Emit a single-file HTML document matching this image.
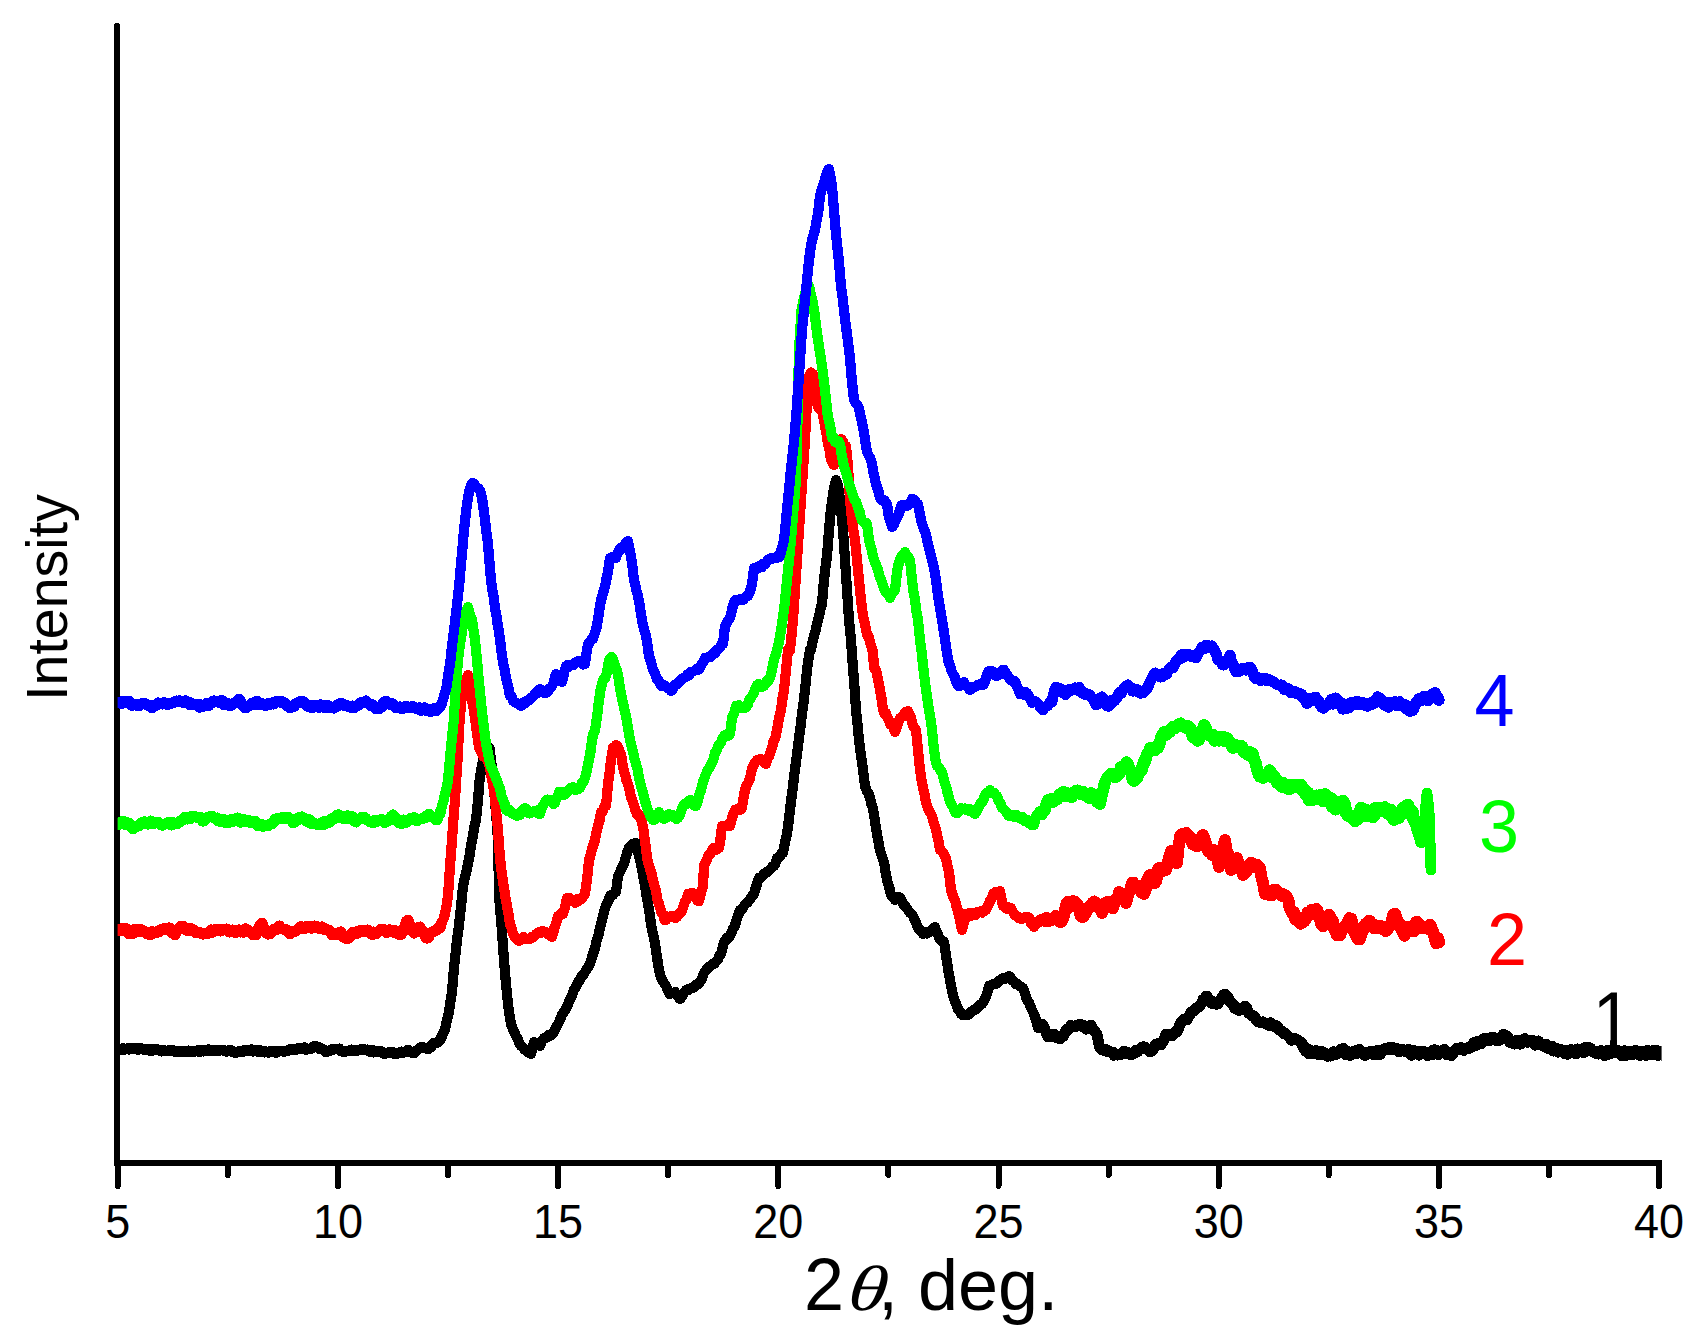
<!DOCTYPE html>
<html><head><meta charset="utf-8"><title>XRD</title>
<style>
html,body{margin:0;padding:0;background:#fff;}
body{width:1703px;height:1342px;overflow:hidden;}
svg{display:block;}
text{font-family:"Liberation Sans",Arial,sans-serif;}
.c{fill:none;stroke-linejoin:round;stroke-linecap:round;}
.ax{stroke:#000;stroke-width:6;stroke-linecap:round;fill:none;}
.tl{font-size:45px;text-anchor:middle;fill:#000;}
.lb{font-size:72px;}
</style></head><body>
<svg width="1703" height="1342" viewBox="0 0 1703 1342" shape-rendering="crispEdges">
<rect width="1703" height="1342" fill="#fff"/>
<defs><clipPath id="cp"><rect x="117.6" y="0" width="1544" height="1160"/></clipPath></defs>
<path class="ax" stroke-linecap="butt" d="M117,26 L117,1163"/>
<path class="ax" d="M117,26 L117,30"/>
<path class="ax" style="stroke-linecap:butt" d="M114,1163 L1662,1163"/>
<path class="ax" d="M117.7,1163 L117.7,1186"/>
<path class="ax" d="M227.8,1163 L227.8,1175"/>
<text class="tl" transform="translate(117.7,1238) scale(1,1.065)">5</text>
<path class="ax" d="M337.9,1163 L337.9,1186"/>
<path class="ax" d="M448.0,1163 L448.0,1175"/>
<text class="tl" transform="translate(337.9,1238) scale(1,1.065)">10</text>
<path class="ax" d="M558.1,1163 L558.1,1186"/>
<path class="ax" d="M668.2,1163 L668.2,1175"/>
<text class="tl" transform="translate(558.1,1238) scale(1,1.065)">15</text>
<path class="ax" d="M778.3,1163 L778.3,1186"/>
<path class="ax" d="M888.4,1163 L888.4,1175"/>
<text class="tl" transform="translate(778.3,1238) scale(1,1.065)">20</text>
<path class="ax" d="M998.5,1163 L998.5,1186"/>
<path class="ax" d="M1108.6,1163 L1108.6,1175"/>
<text class="tl" transform="translate(998.5,1238) scale(1,1.065)">25</text>
<path class="ax" d="M1218.7,1163 L1218.7,1186"/>
<path class="ax" d="M1328.8,1163 L1328.8,1175"/>
<text class="tl" transform="translate(1218.7,1238) scale(1,1.065)">30</text>
<path class="ax" d="M1438.9,1163 L1438.9,1186"/>
<path class="ax" d="M1549.0,1163 L1549.0,1175"/>
<text class="tl" transform="translate(1438.9,1238) scale(1,1.065)">35</text>
<path class="ax" d="M1659.1,1163 L1659.1,1186"/>
<text class="tl" transform="translate(1659.1,1238) scale(1,1.065)">40</text>
<g clip-path="url(#cp)">
<path class="c" stroke="#000" stroke-width="10.6" d="M117.0,1049.6 L118.5,1049.2 L120.0,1048.8 L121.5,1049.8 L123.0,1048.6 L124.5,1049.5 L126.0,1049.1 L127.5,1048.5 L129.0,1049.3 L130.5,1048.4 L132.0,1049.1 L133.5,1048.4 L135.0,1048.4 L136.5,1049.0 L138.0,1049.8 L139.5,1048.3 L141.0,1048.5 L142.5,1049.3 L144.0,1049.0 L145.5,1050.0 L146.9,1049.4 L148.4,1049.2 L149.8,1050.5 L151.3,1048.8 L152.7,1050.5 L154.2,1049.5 L155.6,1049.4 L157.1,1049.5 L158.5,1050.0 L160.0,1050.5 L161.5,1051.2 L163.1,1050.0 L164.6,1050.9 L166.2,1051.1 L167.7,1050.7 L169.2,1051.1 L170.8,1050.2 L172.3,1050.3 L173.8,1050.7 L175.4,1051.7 L176.9,1051.3 L178.5,1051.1 L180.0,1051.6 L181.5,1051.7 L182.9,1051.4 L184.4,1051.0 L185.8,1052.0 L187.3,1051.7 L188.7,1050.8 L190.2,1051.4 L191.6,1051.2 L193.1,1051.9 L194.5,1051.5 L196.0,1051.0 L197.5,1050.5 L199.1,1051.8 L200.6,1050.1 L202.1,1050.6 L203.6,1051.2 L205.2,1050.0 L206.7,1050.6 L208.2,1049.6 L209.8,1050.8 L211.3,1050.9 L212.8,1050.5 L214.4,1051.0 L215.9,1049.9 L217.4,1050.6 L218.9,1050.3 L220.5,1050.2 L222.0,1050.0 L223.5,1050.1 L224.9,1051.0 L226.4,1051.4 L227.8,1050.7 L229.3,1051.2 L230.7,1050.2 L232.2,1051.7 L233.6,1051.7 L235.1,1052.6 L236.5,1052.5 L238.0,1052.0 L239.5,1051.4 L241.0,1051.4 L242.5,1051.8 L244.0,1050.3 L245.5,1051.0 L247.0,1050.2 L248.5,1049.9 L250.0,1050.5 L251.5,1049.7 L252.9,1051.2 L254.4,1050.1 L255.8,1050.4 L257.3,1050.8 L258.7,1051.8 L260.2,1050.4 L261.6,1051.2 L263.1,1051.5 L264.5,1052.3 L266.0,1051.6 L267.5,1052.2 L269.0,1052.3 L270.5,1051.2 L272.0,1051.4 L273.5,1051.3 L275.0,1052.4 L276.5,1052.5 L278.0,1050.9 L279.5,1051.0 L281.0,1051.1 L282.5,1051.1 L284.0,1051.6 L285.5,1051.2 L286.9,1051.1 L288.4,1050.1 L289.8,1049.3 L291.3,1049.8 L292.7,1049.4 L294.2,1049.4 L295.6,1049.9 L297.1,1049.0 L298.5,1048.4 L300.0,1048.0 L301.6,1048.4 L303.2,1048.8 L304.8,1047.7 L306.4,1049.6 L308.0,1049.0 L309.4,1049.0 L310.8,1048.5 L312.2,1047.8 L313.6,1046.4 L315.0,1046.0 L316.6,1046.7 L318.1,1046.9 L319.7,1048.8 L321.3,1048.6 L322.9,1049.4 L324.4,1050.6 L326.0,1052.0 L327.5,1050.9 L329.0,1050.9 L330.5,1050.0 L332.0,1049.5 L333.5,1049.4 L335.0,1049.0 L336.5,1049.1 L338.0,1049.0 L339.5,1048.8 L341.0,1051.2 L342.5,1051.5 L344.0,1052.0 L345.6,1051.0 L347.1,1050.9 L348.7,1050.8 L350.3,1050.6 L351.9,1049.8 L353.4,1051.0 L355.0,1050.0 L356.6,1051.0 L358.1,1049.9 L359.7,1050.0 L361.3,1049.2 L362.9,1049.2 L364.4,1049.7 L366.0,1050.0 L367.5,1049.8 L369.0,1051.2 L370.5,1050.1 L372.0,1050.0 L373.5,1052.2 L375.0,1051.6 L376.5,1051.0 L378.0,1052.0 L379.5,1052.2 L381.0,1051.3 L382.5,1052.4 L384.0,1053.5 L385.5,1053.4 L387.0,1053.1 L388.5,1052.4 L390.0,1053.0 L391.4,1052.7 L392.9,1052.3 L394.3,1053.5 L395.7,1053.1 L397.1,1053.6 L398.6,1052.7 L400.0,1053.0 L401.6,1051.8 L403.2,1052.4 L404.8,1052.2 L406.4,1051.3 L408.0,1050.0 L409.5,1051.4 L411.0,1052.1 L412.5,1052.7 L414.0,1053.0 L415.5,1051.2 L417.0,1050.5 L418.5,1049.0 L420.0,1048.0 L421.6,1047.3 L423.2,1047.5 L424.8,1048.2 L426.4,1048.3 L428.0,1049.0 L429.5,1047.9 L431.0,1046.9 L432.5,1044.4 L434.0,1043.0 L435.5,1043.1 L437.0,1042.5 L438.5,1041.7 L440.0,1040.0 L441.7,1036.3"/>
<path class="c" stroke="#000" stroke-width="10.2" d="M440.0,1040.0 L441.7,1036.3 L443.3,1032.7 L445.0,1030.0 L446.3,1023.3 L447.7,1017.3 L449.0,1012.0 L450.5,1001.3 L452.0,992.0 L454.0,968.0 L455.5,954.3 L457.0,940.0 L458.5,929.0 L460.0,916.0 L461.5,901.8 L463.0,886.0 L464.7,878.6 L466.3,871.7 L468.0,864.0 L469.5,855.7 L471.0,846.0 L473.0,835.0 L474.5,826.5 L476.0,820.0 L478.0,800.0 L479.6,780.0 L481.6,767.0 L484.5,754.0 L486.0,750.6 L487.5,746.5 L489.5,748.0 L490.5,756.0 L492.0,768.0 L494.5,795.0 L496.0,813.5 L497.5,830.0 L499.4,900.0 L502.0,932.0 L504.0,960.0 L506.0,984.0 L508.0,1004.0 L509.5,1014.7 L511.0,1024.0 L512.7,1028.6 L514.3,1031.9 L516.0,1036.0 L517.7,1038.6 L519.3,1043.4 L521.0,1046.0 L522.7,1046.9 L524.3,1049.4 L526.0,1050.0 L527.7,1052.5 L529.3,1052.4 L531.0,1054.0 L532.5,1047.8 L534.0,1042.0 L535.5,1044.1 L537.0,1044.5 L538.5,1044.2 L540.0,1046.0 L541.3,1042.4 L542.7,1039.8 L544.0,1038.0 L545.6,1038.2 L547.2,1037.1 L548.8,1034.8 L550.4,1035.6 L552.0,1034.0 L553.5,1032.7 L555.0,1029.4 L556.5,1026.1 L558.0,1024.0 L559.5,1021.1 L561.0,1017.1 L562.5,1013.8 L564.0,1012.0 L565.7,1009.8 L567.3,1005.7 L569.0,1002.0 L570.3,998.7 L571.7,996.4 L573.0,992.0 L574.7,988.5 L576.3,986.2 L578.0,982.0 L579.5,980.8 L581.0,977.3 L582.5,975.4 L584.0,974.0 L585.5,971.0 L587.0,968.4 L588.5,966.7 L590.0,964.0 L591.7,958.1 L593.3,953.1 L595.0,948.0 L596.7,940.4 L598.3,935.7 L600.0,928.0 L601.7,921.0 L603.3,914.6 L605.0,908.0 L606.7,904.2 L608.3,901.0 L610.0,896.0 L611.5,894.8 L613.0,895.0 L614.5,893.0 L616.0,892.0 L618.0,876.0 L619.5,873.1 L621.0,870.1 L622.5,865.8 L624.0,864.0 L625.3,859.2 L626.7,853.9 L628.0,850.0 L629.3,847.1 L630.7,847.4 L632.0,845.0 L633.3,843.5 L634.7,843.6 L636.0,843.0 L637.3,849.2 L638.7,854.5 L640.0,860.0 L641.3,866.2 L642.7,873.4 L644.0,880.0 L645.3,888.1 L646.7,896.7 L648.0,904.0 L649.5,913.1 L651.0,924.0 L652.3,930.8 L653.7,936.7 L655.0,944.0 L656.5,953.5 L658.0,964.0 L659.5,971.7 L661.0,978.0 L662.7,980.7 L664.3,983.5 L666.0,986.0 L667.3,989.3 L668.7,992.3 L670.0,994.0 L671.7,993.2 L673.3,992.9 L675.0,992.0 L676.7,994.3 L678.3,996.7 L680.0,999.0 L681.5,997.2 L683.0,994.4 L684.5,992.3 L686.0,990.0 L687.4,989.3 L688.8,989.9 L690.2,988.7 L691.6,988.5 L693.0,987.0 L694.4,987.1 L695.8,984.4 L697.2,984.1 L698.6,984.1 L700.0,982.0 L701.5,979.8 L703.0,975.1 L704.5,972.1 L706.0,970.0 L707.6,968.7 L709.2,966.6 L710.8,965.8 L712.4,964.2 L714.0,964.0 L715.4,962.4 L716.8,960.7 L718.2,959.0 L719.6,955.2 L721.0,954.0 L722.5,948.5 L724.0,942.0 L725.4,940.8 L726.8,937.9 L728.2,938.1 L729.6,936.7 L731.0,934.0 L732.7,929.3 L734.3,927.1 L736.0,922.0 L737.3,917.8 L738.7,914.0 L740.0,910.0 L741.6,909.6 L743.2,907.6 L744.8,904.4 L746.4,903.4 L748.0,902.0 L749.5,900.0 L751.0,897.6 L752.5,895.3 L754.0,894.0 L755.3,888.9 L756.7,885.2 L758.0,880.0 L759.6,877.4 L761.2,877.3 L762.8,875.7 L764.4,873.2 L766.0,873.0 L767.6,871.2 L769.2,870.5 L770.8,868.8 L772.4,866.4 L774.0,866.0 L775.5,863.2 L777.0,858.0 L778.5,857.4 L780.0,856.6 L781.5,853.3 L783.0,853.0 L784.3,846.1 L785.7,839.2 L787.0,834.0 L788.5,822.7 L790.0,810.0 L791.5,797.4 L793.0,786.0 L794.5,773.1 L796.0,762.0 L797.5,749.8 L799.0,738.0 L800.5,727.0 L802.0,714.0 L803.5,702.8 L805.0,690.0 L807.0,670.0 L808.5,659.4 L810.0,650.0 L811.0,650.0 L812.5,642.2 L814.0,636.0 L815.3,631.7 L816.7,625.5 L818.0,620.0 L819.3,615.1 L820.7,608.3 L822.0,604.0 L824.0,580.0 L825.5,566.9 L827.0,556.0 L829.0,530.0 L831.0,508.0 L832.5,498.5 L834.0,488.0 L836.0,480.0 L838.0,485.0 L840.0,500.0 L841.5,514.8 L843.0,530.0 L845.0,560.0 L847.0,590.0 L849.0,620.0 L851.0,640.0 L853.0,668.0 L854.0,680.0 L856.0,710.0 L857.5,724.0 L859.0,740.0 L860.5,752.1 L862.0,762.0 L863.5,774.3 L865.0,786.0 L866.7,790.7 L868.3,793.0 L870.0,798.0 L871.3,804.2 L872.7,807.6 L874.0,814.0 L875.5,824.9 L877.0,834.0 L878.5,842.4 L880.0,851.0 L881.3,854.3 L882.7,858.5 L884.0,862.0 L885.5,872.0 L887.0,880.0 L888.3,884.4 L889.7,889.1 L891.0,895.0 L892.3,896.7 L893.7,897.7 L895.0,900.0 L896.3,898.1 L897.7,897.2 L899.0,897.0 L900.3,898.3 L901.7,901.0 L903.0,904.0 L904.7,905.5 L906.3,907.5 L908.0,910.0 L909.7,912.6 L911.3,913.5 L913.0,916.0 L914.7,920.0 L916.3,923.2 L918.0,928.0 L919.7,929.6 L921.3,930.8 L923.0,934.0 L924.4,933.0 L925.8,932.0 L927.2,933.4 L928.6,932.5 L930.0,932.0 L931.7,929.6 L933.3,928.6 L935.0,927.0 L936.3,931.7 L937.7,933.4 L939.0,938.0 L940.7,940.1 L942.3,940.5 L944.0,942.0 L945.5,952.0 L947.0,962.0 L948.5,971.8 L950.0,980.0 L951.5,987.7 L953.0,996.0 L954.3,999.3 L955.7,1003.1 L957.0,1006.0 L958.3,1009.8 L959.7,1011.0 L961.0,1014.0 L962.4,1015.0 L963.8,1014.9 L965.2,1014.9 L966.6,1014.6 L968.0,1015.0 L969.4,1013.6 L970.8,1011.9 L972.2,1011.1 L973.6,1010.0 L975.0,1010.0 L976.4,1009.4 L977.8,1007.0 L979.2,1005.6 L980.6,1004.2 L982.0,1004.0 L983.7,1001.5 L985.3,998.2 L987.0,994.0 L989.0,986.0 L990.4,986.0 L991.8,984.7 L993.2,984.2 L994.6,983.9 L996.0,984.0 L997.5,982.7 L999.0,980.7 L1000.5,980.1 L1002.0,979.0 L1003.4,977.8 L1004.8,978.9 L1006.2,978.3 L1007.6,976.7 L1009.0,976.0 L1010.4,977.0 L1011.8,980.3 L1013.2,980.3 L1014.6,982.1 L1016.0,984.0 L1017.4,983.6 L1018.8,985.3 L1020.2,986.3 L1021.6,987.2 L1023.0,988.0 L1024.3,991.3 L1025.7,996.0 L1027.0,1000.0 L1028.7,1002.1 L1030.3,1006.1 L1032.0,1010.0 L1034.0,1014.0 L1035.3,1017.7 L1036.7,1023.1 L1038.0,1028.0 L1039.3,1025.6 L1040.7,1024.2"/>
<path class="c" stroke="#000" stroke-width="11" d="M1040.7,1024.2 L1042.0,1024.0 L1043.5,1026.5 L1045.0,1029.5 L1046.5,1034.1 L1048.0,1037.0 L1049.5,1036.4 L1051.0,1036.4 L1052.5,1035.3 L1054.0,1034.0 L1055.5,1036.0 L1057.0,1037.9 L1058.5,1037.4 L1060.0,1039.0 L1061.7,1036.0 L1063.3,1036.1 L1065.0,1032.0 L1066.4,1029.5 L1067.8,1030.4 L1069.2,1028.9 L1070.6,1025.6 L1072.0,1026.0 L1073.6,1026.8 L1075.2,1026.6 L1076.8,1025.3 L1078.4,1025.2 L1080.0,1024.0 L1081.5,1026.4 L1083.0,1025.2 L1084.5,1027.8 L1086.0,1029.0 L1087.7,1027.7 L1089.3,1027.5 L1091.0,1025.0 L1092.5,1028.3 L1094.0,1030.7 L1095.5,1032.1 L1097.0,1034.0 L1098.5,1042.4 L1100.0,1048.0 L1101.6,1049.5 L1103.2,1050.3 L1104.8,1049.4 L1106.4,1049.5 L1108.0,1052.0 L1109.5,1051.2 L1111.0,1052.5 L1112.5,1052.1 L1114.0,1055.2 L1115.5,1054.7 L1117.0,1055.0 L1118.4,1055.0 L1119.9,1054.6 L1121.3,1054.4 L1122.7,1053.2 L1124.1,1051.1 L1125.6,1053.5 L1127.0,1052.0 L1128.3,1053.9 L1129.7,1054.0 L1131.0,1055.0 L1132.6,1054.1 L1134.2,1053.6 L1135.8,1050.4 L1137.4,1051.9 L1139.0,1050.0 L1140.5,1048.4 L1142.0,1047.0 L1143.5,1046.9 L1145.0,1047.0 L1146.7,1049.5 L1148.3,1049.3 L1150.0,1052.0 L1151.5,1050.9 L1153.0,1049.7 L1154.5,1046.0 L1156.0,1044.0 L1157.7,1043.9 L1159.3,1044.6 L1161.0,1045.0 L1162.7,1042.0 L1164.3,1038.6 L1166.0,1034.0 L1167.5,1034.9 L1169.0,1035.5 L1170.5,1034.0 L1172.0,1036.0 L1173.5,1033.2 L1175.0,1032.1 L1176.5,1032.4 L1178.0,1030.0 L1179.5,1025.3 L1181.0,1022.0 L1182.5,1021.7 L1184.0,1019.2 L1185.5,1018.9 L1187.0,1020.0 L1188.3,1016.5 L1189.7,1015.3 L1191.0,1012.0 L1192.5,1011.7 L1194.0,1010.6 L1195.5,1008.2 L1197.0,1008.1 L1198.5,1006.9 L1200.0,1006.0 L1201.5,1003.4 L1203.0,999.6 L1204.5,999.9 L1206.0,996.0 L1207.4,996.5 L1208.8,1000.9 L1210.2,1002.4 L1211.6,1000.7 L1213.0,1004.0 L1214.5,1003.4 L1216.0,1004.2 L1217.5,1004.2 L1219.0,1002.0 L1220.5,999.8 L1222.0,997.2 L1223.5,995.0 L1225.0,994.0 L1226.5,997.9 L1228.0,997.5 L1229.5,1001.0 L1231.0,1003.0 L1232.4,1003.1 L1233.8,1005.9 L1235.2,1008.8 L1236.6,1007.3 L1238.0,1010.0 L1239.4,1010.4 L1240.8,1008.4 L1242.2,1009.0 L1243.6,1007.5 L1245.0,1006.0 L1246.7,1007.7 L1248.3,1012.8 L1250.0,1014.0 L1251.6,1015.6 L1253.2,1015.5 L1254.8,1017.0 L1256.4,1020.4 L1258.0,1022.0 L1259.6,1022.2 L1261.2,1022.1 L1262.8,1021.9 L1264.4,1023.0 L1266.0,1024.0 L1267.6,1023.5 L1269.2,1025.6 L1270.8,1022.8 L1272.4,1025.7 L1274.0,1025.0 L1275.6,1027.4 L1277.2,1026.0 L1278.8,1030.1 L1280.4,1030.6 L1282.0,1031.0 L1283.6,1033.8 L1285.2,1033.0 L1286.8,1034.7 L1288.4,1036.2 L1290.0,1038.0 L1291.6,1040.2 L1293.2,1039.1 L1294.8,1038.7 L1296.4,1039.3 L1298.0,1040.0 L1299.5,1041.2 L1301.0,1042.4"/>
<path class="c" stroke="#000" stroke-width="11.6" d="M1301.0,1042.4 L1302.5,1044.6 L1304.0,1048.0 L1305.6,1050.7 L1307.2,1048.9 L1308.8,1053.2 L1310.4,1050.7 L1312.0,1053.0 L1313.4,1051.7 L1314.9,1052.8 L1316.3,1051.0 L1317.7,1051.8 L1319.1,1054.6 L1320.6,1054.1 L1322.0,1052.0 L1323.4,1054.0 L1324.9,1053.5 L1326.3,1055.4 L1327.7,1055.9 L1329.1,1054.4 L1330.6,1055.7 L1332.0,1055.0 L1333.4,1052.0 L1334.9,1054.7 L1336.3,1052.6 L1337.7,1053.4 L1339.1,1052.2 L1340.6,1049.6 L1342.0,1050.0 L1343.6,1048.7 L1345.2,1054.1 L1346.8,1051.1 L1348.4,1053.9 L1350.0,1055.0 L1351.6,1053.2 L1353.2,1052.0 L1354.8,1053.2 L1356.4,1053.4 L1358.0,1050.0 L1359.4,1049.8 L1360.8,1052.8 L1362.2,1052.0 L1363.6,1054.3 L1365.0,1055.0 L1366.6,1054.1 L1368.2,1052.5 L1369.8,1052.1 L1371.4,1051.9 L1373.0,1053.0 L1374.4,1054.7 L1375.9,1052.4 L1377.3,1050.7 L1378.7,1053.9 L1380.1,1054.1 L1381.6,1051.0 L1383.0,1051.0 L1384.6,1049.0 L1386.1,1049.0 L1387.7,1048.3 L1389.2,1049.3 L1390.8,1047.8 L1392.3,1048.4 L1393.9,1048.2 L1395.4,1049.6 L1397.0,1049.0 L1398.5,1051.3 L1399.9,1051.0 L1401.4,1049.7 L1402.8,1050.0 L1404.3,1050.9 L1405.7,1050.6 L1407.2,1050.7 L1408.6,1049.7 L1410.1,1051.2 L1411.5,1055.0 L1413.0,1053.0 L1414.5,1051.1 L1415.9,1053.0 L1417.4,1053.6 L1418.8,1054.8 L1420.3,1051.6 L1421.7,1051.9 L1423.2,1051.7"/>
<path class="c" stroke="#000" stroke-width="11.6" d="M1423.2,1051.7 L1424.6,1052.5 L1426.1,1052.7 L1427.5,1055.3 L1429.0,1053.0 L1430.6,1054.6 L1432.1,1054.6 L1433.7,1050.3 L1435.2,1050.2 L1436.8,1053.5 L1438.3,1054.3 L1439.9,1052.1 L1441.4,1052.5 L1443.0,1052.0 L1444.4,1049.6 L1445.9,1051.7 L1447.3,1054.6 L1448.7,1054.2 L1450.1,1054.5 L1451.6,1055.2 L1453.0,1053.0 L1454.6,1050.7 L1456.2,1049.0 L1457.8,1048.3 L1459.4,1049.1 L1461.0,1048.0 L1462.4,1048.8 L1463.9,1049.9 L1465.3,1048.7 L1466.7,1048.2 L1468.1,1048.6 L1469.6,1046.9 L1471.0,1047.0 L1472.6,1046.3 L1474.2,1042.7 L1475.8,1045.4 L1477.4,1041.7 L1479.0,1042.0 L1480.4,1043.7 L1481.9,1041.9 L1483.3,1039.7 L1484.7,1038.4 L1486.1,1038.6 L1487.6,1040.1 L1489.0,1039.0 L1490.4,1040.1 L1491.9,1037.3 L1493.3,1037.3 L1494.7,1039.7 L1496.1,1040.1 L1497.6,1039.3 L1499.0,1040.0 L1500.5,1037.6 L1502.0,1038.5 L1503.5,1034.6 L1505.0,1036.0 L1506.6,1036.2 L1508.2,1038.2 L1509.8,1041.9 L1511.4,1041.5 L1513.0,1042.0 L1514.5,1043.8 L1515.9,1041.7 L1517.4,1040.4 L1518.8,1040.4 L1520.3,1043.8 L1521.7,1042.5 L1523.2,1040.4 L1524.6,1038.9 L1526.1,1041.2 L1527.5,1042.0 L1529.0,1041.0 L1530.6,1041.0 L1532.1,1040.7 L1533.7,1043.2 L1535.2,1044.9 L1536.8,1041.9 L1538.3,1041.3 L1539.9,1043.3 L1541.4,1044.2 L1543.0,1045.0 L1544.5,1046.4 L1546.0,1044.5 L1547.5,1048.0 L1549.0,1048.2 L1550.5,1047.5 L1552.0,1046.5 L1553.5,1050.8 L1555.0,1049.0 L1556.6,1048.7 L1558.2,1051.8 L1559.8,1049.5 L1561.4,1050.0 L1563.0,1052.0 L1564.5,1053.2 L1565.9,1050.8 L1567.4,1054.0 L1568.8,1051.6 L1570.3,1050.0 L1571.7,1050.1 L1573.2,1050.9 L1574.6,1052.1 L1576.1,1053.4 L1577.5,1049.3 L1579.0,1051.0 L1580.5,1050.2 L1582.0,1049.1 L1583.5,1052.6 L1585.0,1048.2 L1586.5,1047.5 L1588.0,1047.3 L1589.5,1048.7 L1591.0,1049.0 L1592.5,1051.5 L1594.0,1051.9 L1595.5,1051.7 L1597.0,1053.5 L1598.5,1053.7 L1600.0,1051.1 L1601.5,1050.9 L1603.0,1053.0 L1604.5,1055.2 L1606.1,1054.2 L1607.6,1050.7 L1609.2,1053.8 L1610.7,1052.4 L1612.2,1052.4 L1613.8,1052.2 L1615.3,1051.3 L1616.8,1050.5 L1618.4,1051.9 L1619.9,1052.3 L1621.5,1055.3 L1623.0,1053.0 L1624.5,1051.1 L1626.1,1055.3 L1627.6,1051.5 L1629.2,1052.3 L1630.7,1054.6 L1632.2,1054.6 L1633.8,1052.7 L1635.3,1050.7 L1636.8,1052.9 L1638.4,1052.4 L1639.9,1055.1 L1641.5,1051.5 L1643.0,1053.0 L1644.5,1052.3 L1646.0,1055.0 L1647.5,1050.7 L1649.0,1052.6 L1650.5,1054.6 L1652.0,1054.3 L1653.5,1050.7 L1655.0,1050.7 L1656.5,1050.8 L1658.0,1055.1 L1659.5,1051.8 L1661.0,1054.2 L1662.5,1055.0 L1664.0,1052.2 L1665.5,1051.9 L1667.0,1055.3 L1668.5,1053.6 L1670.0,1053.0"/>
<path class="c" stroke="#f00" stroke-width="11" d="M117.0,931.0 L118.4,929.7 L119.8,931.0 L121.2,929.1 L122.6,928.5 L124.0,929.0 L125.5,928.1 L127.0,932.0 L128.5,933.6 L130.0,933.0 L131.4,932.9 L132.9,933.5 L134.3,929.5 L135.7,929.7 L137.1,930.0 L138.6,931.3 L140.0,929.0 L141.4,931.7 L142.8,930.6 L144.2,931.1 L145.6,932.7 L147.0,934.0 L148.6,933.5 L150.1,934.8 L151.7,931.5 L153.3,933.4 L154.9,932.8 L156.4,932.7 L158.0,931.0 L159.4,931.6 L160.9,930.6 L162.3,929.1 L163.7,928.6 L165.1,928.3 L166.6,929.5 L168.0,928.0 L169.4,927.8 L170.8,929.6 L172.2,933.2 L173.6,932.6 L175.0,935.0 L176.5,931.1 L178.0,928.7 L179.5,928.4 L181.0,926.0 L182.5,926.0 L184.0,929.2 L185.5,929.5 L187.0,930.5 L188.5,928.4 L190.0,930.0 L191.5,928.9 L193.0,929.5 L194.5,931.5 L196.0,932.8 L197.5,932.3 L199.0,932.0 L200.5,933.2 L202.0,934.0 L203.6,934.0 L205.1,933.8 L206.7,933.6 L208.2,933.5 L209.8,932.4 L211.3,929.9 L212.9,932.2 L214.4,929.7 L216.0,930.0 L217.5,930.3 L219.0,929.6 L220.5,931.1 L222.0,929.1 L223.5,929.3 L225.0,929.3 L226.5,929.0 L228.0,930.4 L229.4,931.9 L230.9,930.9 L232.3,930.0 L233.7,930.3 L235.1,932.7 L236.6,930.9 L238.0,931.0 L239.4,929.8 L240.9,931.9 L242.3,931.2 L243.7,932.3 L245.1,928.8 L246.6,930.0 L248.0,930.0 L249.6,932.2 L251.2,933.3 L252.8,934.6 L254.4,932.3 L256.0,935.0 L257.5,931.2 L259.0,927.6 L260.5,924.8 L262.0,923.0 L263.5,927.5 L265.0,928.8 L266.5,932.9 L268.0,934.0 L269.4,932.5 L270.9,933.4 L272.3,930.8 L273.7,929.1 L275.1,930.1 L276.6,929.7 L278.0,927.0 L279.5,926.0 L281.0,928.4 L282.5,929.0 L284.0,929.0 L285.5,929.2 L287.0,931.0 L288.5,931.4 L290.0,934.0 L291.6,931.9 L293.2,931.1 L294.8,931.4 L296.4,930.6 L298.0,929.0 L299.5,927.6 L301.0,926.6 L302.5,927.6 L304.0,928.7 L305.5,926.6 L307.0,926.8 L308.5,926.1 L310.0,927.0 L311.5,928.3 L312.9,927.5 L314.4,925.9 L315.8,926.2 L317.3,927.5 L318.7,928.3 L320.2,928.8 L321.6,926.9 L323.1,927.4 L324.5,929.6 L326.0,929.0 L327.5,929.7 L329.0,930.2 L330.5,931.3 L332.0,934.7 L333.5,933.3 L335.0,935.0 L336.5,934.5 L338.0,933.0 L339.5,932.4 L341.0,932.0 L342.5,935.1 L344.0,937.4 L345.5,936.7 L347.0,939.0 L348.4,936.6 L349.8,937.5 L351.2,934.3 L352.6,932.3 L354.0,933.0 L355.6,933.9 L357.2,931.5 L358.8,932.4 L360.4,930.2 L362.0,930.0 L363.4,931.9 L364.9,930.7 L366.3,930.1 L367.8,929.9 L369.2,932.4 L370.7,933.2 L372.1,934.7 L373.6,932.0 L375.0,934.0 L376.4,933.7 L377.8,931.9 L379.2,931.6 L380.6,929.5 L382.0,930.0 L383.5,929.6 L385.0,930.9 L386.5,932.8 L388.0,931.6 L389.5,929.7 L391.0,930.8 L392.5,931.6 L394.0,930.0 L395.5,933.0 L397.0,931.3 L398.5,932.3 L400.0,935.0 L401.3,934.4 L402.7,932.1 L404.0,928.0 L405.3,925.3 L406.7,921.0 L408.0,920.0 L409.5,924.9 L411.0,926.1 L412.5,931.3 L414.0,933.0 L415.5,932.0 L417.0,931.2 L418.5,927.2 L420.0,927.0 L421.5,930.8 L423.0,931.4 L424.5,934.9 L426.0,938.0 L427.4,938.1 L428.8,936.9 L430.2,933.2 L431.6,932.1 L433.0,932.0 L434.4,930.8 L435.8,930.5 L437.2,929.2 L438.6,927.4 L440.0,928.0 L441.7,922.4"/>
<path class="c" stroke="#f00" stroke-width="10.2" d="M440.0,928.0 L441.7,922.4 L443.3,919.5 L445.0,914.0 L446.5,906.4 L448.0,896.0 L450.0,866.0 L452.0,840.0 L453.5,818.3 L455.0,800.0 L457.5,760.0 L459.5,722.0 L461.5,700.0 L463.0,692.2 L464.5,684.0 L466.2,680.4 L468.0,675.0 L470.5,688.0 L472.0,700.0 L473.8,709.3 L475.5,722.0 L478.0,741.0 L479.5,749.0 L482.0,754.0 L483.3,756.6 L484.7,755.3 L486.0,758.0 L487.5,760.9 L489.0,763.0 L491.0,774.0 L493.0,785.0 L494.5,795.0 L496.0,810.0 L498.0,830.0 L499.0,846.0 L501.0,868.0 L502.5,878.2 L504.0,888.0 L505.5,897.5 L507.0,906.0 L508.5,914.3 L510.0,924.0 L511.3,927.7 L512.7,932.3 L514.0,936.0 L515.7,937.4 L517.3,939.9 L519.0,941.0 L520.5,940.1 L522.0,939.3 L523.5,937.0 L525.0,938.0 L526.7,938.8 L528.3,938.6 L530.0,939.0 L531.5,936.8 L533.0,937.4 L534.5,936.3 L536.0,934.0 L537.6,933.4 L539.2,932.0 L540.8,932.7 L542.4,931.0 L544.0,932.0 L545.6,931.7 L547.2,933.8 L548.8,933.5 L550.4,935.8 L552.0,937.0 L553.3,932.7 L554.7,926.7 L556.0,924.0 L558.0,916.0 L559.7,915.8 L561.3,913.2 L563.0,914.0 L564.3,909.5 L565.7,904.3 L567.0,898.0 L568.4,898.8 L569.8,898.0 L571.2,900.4 L572.6,900.8 L574.0,902.0 L575.5,902.9 L577.0,899.2 L578.5,901.0 L580.0,899.0 L581.7,899.1 L583.3,896.5 L585.0,894.0 L587.0,880.0 L589.0,860.0 L590.3,856.5 L591.7,849.6 L593.0,846.0 L594.7,841.1 L596.3,832.6 L598.0,826.0 L599.5,820.6 L601.0,812.0 L602.7,811.5 L604.3,806.8 L606.0,806.0 L608.0,784.0 L609.5,773.0 L611.0,760.0 L613.0,748.0 L614.5,748.1 L616.0,745.0 L617.7,746.4 L619.3,750.5 L621.0,754.0 L622.5,763.9 L624.0,772.0 L625.3,774.8 L626.7,781.4 L628.0,784.0 L629.3,788.5 L630.7,795.8 L632.0,800.0 L633.3,802.7 L634.7,808.0 L636.0,812.0 L637.5,815.2 L639.0,814.3 L640.5,817.0 L642.0,822.6 L643.5,830.0 L645.5,845.0 L647.5,860.0 L648.8,865.0 L650.1,869.3 L651.5,873.3 L652.8,880.0 L654.3,884.9 L655.9,890.8 L657.5,899.6 L659.0,904.0 L660.4,908.6 L661.8,913.4 L663.1,914.8 L664.5,920.0 L666.1,920.0 L667.8,916.6 L669.4,917.1 L671.0,916.0 L672.5,916.7 L674.0,916.0 L675.5,918.1 L677.0,917.0 L678.5,914.9 L680.0,912.8 L681.5,911.6 L683.0,908.0 L684.7,901.9 L686.3,900.4 L688.0,894.0 L689.7,894.1 L691.3,893.0 L693.0,893.0 L694.5,896.1 L696.0,896.2 L697.5,900.8 L699.0,901.0 L700.3,896.3 L701.7,890.5 L703.0,886.0 L704.0,865.0 L705.6,863.0 L707.2,858.8 L708.8,854.8 L710.4,853.9 L712.0,850.0 L713.4,848.0 L714.8,850.4 L716.2,847.9 L717.6,848.9 L719.0,848.0 L720.5,838.7 L722.0,826.0 L723.6,826.3 L725.2,826.6 L726.8,825.3 L728.4,824.2 L730.0,826.0 L731.7,819.0 L733.3,814.1 L735.0,810.0 L736.4,810.0 L737.8,809.0 L739.2,808.8 L740.6,809.8 L742.0,808.0 L743.5,797.7 L745.0,790.0 L746.7,785.0 L748.3,782.6 L750.0,778.0 L751.3,771.6 L752.7,766.9 L754.0,764.0 L755.5,762.2 L757.0,760.1 L758.5,759.7 L760.0,759.0 L761.5,759.3 L763.0,761.8 L764.5,763.1 L766.0,764.0 L767.5,758.9 L769.0,756.4 L770.5,751.9 L772.0,748.0 L773.7,740.7 L775.3,737.6 L777.0,730.0 L778.3,722.4 L779.7,715.4 L781.0,710.0 L782.5,698.5 L784.0,690.0 L786.0,670.0 L788.0,650.0 L790.0,650.0 L791.5,635.5 L793.0,620.0 L795.0,590.0 L797.0,560.0 L799.0,530.0 L801.0,500.0 L803.0,470.0 L805.0,440.0 L806.0,420.0 L807.5,395.0 L809.0,376.0 L811.0,372.5 L813.0,374.0 L815.0,388.0 L817.0,404.0 L818.7,407.7 L820.3,409.7 L822.0,411.0 L823.5,418.1 L825.0,426.0 L826.5,434.2 L828.0,444.0 L829.5,450.2 L831.0,460.0 L832.5,463.0 L834.0,465.0 L835.3,459.6 L836.7,453.1 L838.0,448.0 L839.5,444.0 L841.0,439.0 L842.7,441.1 L844.3,445.2 L846.0,446.0 L848.0,466.0 L850.0,500.0 L852.0,520.0 L853.5,530.8 L855.0,540.0 L857.0,560.0 L859.0,580.0 L861.0,600.0 L863.0,616.0 L864.5,622.1 L866.0,630.0 L867.3,635.5 L868.7,636.4 L870.0,642.0 L871.5,647.1 L873.0,652.0 L874.0,668.0 L876.0,670.0 L877.3,676.3 L878.7,682.4 L880.0,690.0 L881.5,698.4 L883.0,710.0 L884.5,713.5 L886.0,713.2 L887.5,717.7 L889.0,720.0 L890.5,724.6 L892.0,724.7 L893.5,727.9 L895.0,732.0 L896.7,727.7 L898.3,722.7 L900.0,718.0 L901.6,717.1 L903.2,716.3 L904.8,712.6 L906.4,711.7 L908.0,711.0 L909.3,713.9 L910.7,716.7 L912.0,722.0 L913.3,726.1 L914.7,728.4 L916.0,730.0 L918.0,750.0 L920.0,770.0 L921.5,779.8 L923.0,788.0 L924.3,792.2 L925.7,801.2 L927.0,806.0 L928.7,810.2 L930.3,812.5 L932.0,816.0 L933.3,821.5 L934.7,825.2 L936.0,830.0 L937.3,835.7 L938.7,841.9 L940.0,850.0 L941.5,851.0 L943.0,852.3 L944.5,855.4 L946.0,858.0 L947.5,865.9 L949.0,872.0 L951.0,890.0 L952.3,894.0 L953.7,897.9 L955.0,900.0 L956.3,906.1 L957.7,909.8 L959.0,916.0 L960.5,923.2 L962.0,930.0 L963.3,924.4 L964.7,920.4 L966.0,914.0 L967.4,914.1 L968.9,913.2 L970.3,914.5 L971.7,915.7 L973.1,913.0 L974.6,915.4 L976.0,914.0 L977.6,911.7 L979.2,911.9 L980.8,911.2 L982.4,912.5 L984.0,911.0 L985.7,910.3 L987.3,907.2 L989.0,904.0 L990.3,900.0 L991.7,898.7 L993.0,894.0 L994.4,892.8 L995.8,891.9 L997.2,893.7 L998.6,892.1 L1000.0,891.0 L1001.5,899.2 L1003.0,906.0 L1004.6,907.0 L1006.2,908.5 L1007.8,907.1 L1009.4,908.8 L1011.0,908.0 L1012.7,911.4 L1014.3,914.6 L1016.0,916.0 L1017.5,916.5 L1019.0,918.3 L1020.5,918.5 L1022.0,919.0 L1023.5,917.8 L1025.0,917.0 L1026.5,917.9 L1028.0,917.0 L1029.5,918.0 L1031.0,923.5 L1032.5,923.2 L1034.0,927.0 L1035.3,923.3 L1036.7,921.6 L1038.0,921.0 L1039.4,922.5 L1040.8,920.4"/>
<path class="c" stroke="#f00" stroke-width="12" d="M1040.8,920.4 L1042.2,919.7 L1043.6,919.3 L1045.0,921.0 L1046.5,917.7 L1048.0,921.2 L1049.5,920.3 L1051.0,920.2 L1052.5,919.9 L1054.0,918.0 L1055.6,916.0 L1057.2,919.7 L1058.8,919.0 L1060.4,922.3 L1062.0,921.0 L1063.3,917.6 L1064.7,912.7 L1066.0,905.0 L1067.4,902.1 L1068.9,906.6 L1070.3,906.6 L1071.7,906.5 L1073.1,901.2 L1074.6,901.5 L1076.0,903.0 L1077.5,904.2 L1079.0,907.2 L1080.5,915.6 L1082.0,917.0 L1083.5,916.6 L1085.0,913.3 L1086.5,912.2 L1088.0,908.0 L1089.6,907.8 L1091.2,904.7 L1092.8,902.6 L1094.4,901.6 L1096.0,903.0 L1097.5,907.0 L1099.0,906.2 L1100.5,909.4 L1102.0,913.0 L1103.7,908.9 L1105.3,902.8 L1107.0,902.0 L1108.5,902.0 L1110.0,903.7 L1111.5,907.8 L1113.0,908.0 L1114.5,903.2 L1116.0,898.9 L1117.5,898.8 L1119.0,892.0 L1120.4,894.2 L1121.8,898.5 L1123.2,899.3 L1124.6,898.0 L1126.0,903.0 L1127.5,897.5 L1129.0,892.6 L1130.5,889.6 L1132.0,883.0 L1133.5,882.8 L1135.0,885.7 L1136.5,885.5 L1138.0,886.0 L1139.5,886.3 L1141.0,892.2 L1142.5,889.5 L1144.0,894.0 L1145.7,889.9 L1147.3,880.0 L1149.0,876.0 L1150.5,874.8 L1152.0,877.7 L1153.5,882.8 L1155.0,883.0 L1156.3,880.9 L1157.7,870.0 L1159.0,868.0 L1160.4,868.3 L1161.8,868.7 L1163.2,871.0 L1164.6,867.7 L1166.0,870.0 L1167.7,863.6 L1169.3,856.4 L1171.0,851.0 L1172.5,856.0 L1174.0,855.6 L1175.5,862.7 L1177.0,863.0 L1178.5,848.2 L1180.0,836.0 L1181.6,834.1 L1183.2,836.8 L1184.8,835.4 L1186.4,832.9 L1188.0,835.0 L1189.5,838.3 L1191.0,837.5 L1192.5,844.2 L1194.0,845.0 L1195.7,845.8 L1197.3,846.1 L1199.0,844.0 L1200.3,841.8 L1201.7,837.1 L1203.0,835.0 L1204.5,838.7 L1206.0,842.9 L1207.5,850.1 L1209.0,852.0 L1210.5,849.8 L1212.0,854.8 L1213.5,849.9 L1215.0,853.0 L1216.3,855.9 L1217.7,860.9 L1219.0,867.0 L1220.5,862.7 L1222.0,853.5 L1223.5,846.0 L1225.0,840.0 L1226.5,849.8 L1228.0,853.4 L1229.5,862.3 L1231.0,870.0 L1232.5,867.2 L1234.0,865.5 L1235.5,862.5 L1237.0,858.0 L1238.5,863.1 L1240.0,865.6 L1241.5,869.7 L1243.0,875.0 L1244.4,870.7 L1245.8,872.7 L1247.2,869.4 L1248.6,867.7 L1250.0,864.0 L1251.4,862.6 L1252.9,864.8 L1254.3,867.4 L1255.7,866.8 L1257.1,864.6 L1258.6,867.2 L1260.0,868.0 L1261.7,879.0 L1263.3,883.8 L1265.0,894.0 L1266.3,892.5 L1267.7,893.5 L1269.0,895.0 L1270.5,895.2 L1272.0,895.1 L1273.5,889.9 L1275.0,891.0 L1276.4,889.9 L1277.8,891.5 L1279.2,893.0 L1280.6,895.1 L1282.0,896.0 L1283.7,894.3 L1285.3,895.6 L1287.0,897.0 L1288.3,899.5 L1289.7,908.5 L1291.0,910.0 L1292.4,913.6 L1293.8,912.0 L1295.2,919.4 L1296.6,916.4 L1298.0,921.0 L1299.4,920.1 L1300.8,923.5"/>
<path class="c" stroke="#f00" stroke-width="12.6" d="M1300.8,923.5 L1302.2,922.2 L1303.6,921.6 L1305.0,920.0 L1306.3,917.1 L1307.7,912.9 L1309.0,913.0 L1310.5,914.1 L1312.0,909.9 L1313.5,910.7 L1315.0,912.1 L1316.5,909.3 L1318.0,913.0 L1319.7,916.5 L1321.3,924.0 L1323.0,926.0 L1324.5,924.8 L1326.0,920.5 L1327.5,918.8 L1329.0,915.0 L1330.6,918.7 L1332.2,920.1 L1333.8,927.8 L1335.4,930.2 L1337.0,935.0 L1338.6,935.1 L1340.2,934.7 L1341.8,929.0 L1343.4,928.4 L1345.0,926.0 L1346.5,926.2 L1348.0,921.9 L1349.5,918.6 L1351.0,919.0 L1352.4,924.8 L1353.8,930.0 L1355.2,933.2 L1356.6,936.6 L1358.0,939.0 L1359.4,939.0 L1360.8,934.8 L1362.2,931.7 L1363.6,927.4 L1365.0,925.0 L1366.5,923.3 L1368.0,925.5 L1369.5,921.0 L1371.0,924.0 L1372.6,924.2 L1374.2,927.9 L1375.8,928.1 L1377.4,928.2 L1379.0,928.0 L1380.6,926.4 L1382.2,928.2 L1383.8,928.8 L1385.4,930.6 L1387.0,930.0 L1388.6,926.1 L1390.2,925.0 L1391.8,923.8 L1393.4,914.7 L1395.0,914.0 L1396.6,918.8 L1398.2,923.4 L1399.8,923.9 L1401.4,928.3 L1403.0,932.0 L1404.6,935.4 L1406.2,927.5 L1407.8,931.1 L1409.4,927.7 L1411.0,930.0 L1412.4,931.1 L1413.8,931.1 L1415.2,926.6 L1416.6,922.0 L1418.0,924.0 L1419.4,925.4 L1420.8,925.9 L1422.2,928.1 L1423.6,927.3"/>
<path class="c" stroke="#f00" stroke-width="12.6" d="M1423.6,927.3 L1425.0,928.0 L1426.7,928.1 L1428.3,928.6 L1430.0,925.0 L1431.7,929.5 L1433.3,932.9 L1435.0,938.0 L1436.3,942.9 L1437.7,938.3 L1439.0,942.0"/>
<path class="c" stroke="#0f0" stroke-width="11" d="M117.0,824.0 L118.5,824.4 L120.0,822.9 L121.5,824.0 L123.0,821.2 L124.5,824.2 L126.0,822.0 L127.4,822.9 L128.8,823.1 L130.2,825.3 L131.6,827.2 L133.0,829.0 L134.5,826.2 L136.0,826.7 L137.5,825.7 L139.0,825.8 L140.5,823.4 L142.0,823.0 L143.4,822.0 L144.9,821.7 L146.3,823.5 L147.7,824.1 L149.1,822.4 L150.6,821.1 L152.0,822.0 L153.6,823.5 L155.2,822.4 L156.8,822.1 L158.4,822.2 L160.0,824.0 L161.4,825.0 L162.9,825.1 L164.3,824.3 L165.7,823.7 L167.1,824.0 L168.6,822.6 L170.0,823.6 L171.4,825.1 L172.9,822.6 L174.3,823.4 L175.7,823.9 L177.1,823.7 L178.6,822.1 L180.0,822.0 L181.5,820.2 L183.0,820.2 L184.5,817.6 L186.0,818.0 L187.4,819.1 L188.9,817.2 L190.3,818.9 L191.7,816.5 L193.1,816.8 L194.6,816.2 L196.0,817.0 L197.6,817.5 L199.2,817.4 L200.8,817.5 L202.4,821.0 L204.0,821.0 L205.4,819.2 L206.8,818.0 L208.2,817.2 L209.6,816.9 L211.0,816.0 L212.5,816.4 L214.0,817.9 L215.5,818.6 L217.0,818.1 L218.5,821.0 L220.0,820.0 L221.6,821.7 L223.2,819.0 L224.8,822.2 L226.4,822.8 L228.0,821.6 L229.6,822.3 L231.2,819.4 L232.8,821.7 L234.4,820.5 L236.0,819.6 L237.4,818.0 L238.9,818.3 L240.3,822.2 L241.7,821.3 L243.1,820.1 L244.6,819.8 L246.0,821.6 L247.6,820.3 L249.2,820.7 L250.8,822.9 L252.4,821.3 L254.0,822.0 L255.5,821.6 L257.0,825.3 L258.5,825.8 L260.0,825.6 L261.4,824.1 L262.9,826.6 L264.3,825.3 L265.7,825.8 L267.1,825.1 L268.6,825.7 L270.0,824.0 L271.6,823.9 L273.2,822.9 L274.8,819.3 L276.4,819.9 L278.0,818.0 L279.5,818.0 L281.0,818.6 L282.5,817.3 L284.0,818.8 L285.5,817.4 L287.0,817.0 L288.5,817.6 L290.0,819.0 L291.5,820.1 L293.0,823.0 L294.5,822.0 L296.0,819.3 L297.5,819.9 L299.0,817.6 L300.5,818.0 L302.0,817.0 L303.5,818.0 L305.0,819.2 L306.5,821.4 L308.0,821.0 L309.6,819.7 L311.2,823.5 L312.8,822.7 L314.4,823.6 L316.0,824.0 L317.6,824.4 L319.1,824.8 L320.7,822.9 L322.2,822.8 L323.8,824.6 L325.3,821.1 L326.9,823.0 L328.4,822.7 L330.0,822.0 L331.4,818.8 L332.8,819.6 L334.2,818.5 L335.6,818.0 L337.0,815.0 L338.5,814.9 L340.0,817.8 L341.5,816.5 L343.0,816.9 L344.5,819.0 L346.0,818.0 L347.5,815.8 L349.0,818.0 L350.5,817.3 L352.0,816.4 L353.3,817.7 L354.7,821.5 L356.0,822.0 L357.5,820.2 L359.0,819.4 L360.5,818.3 L362.0,817.0 L363.6,819.0 L365.2,817.9 L366.8,819.8 L368.4,820.7 L370.0,822.0 L371.4,821.9 L372.9,822.7 L374.3,820.4 L375.7,822.1 L377.1,820.2 L378.6,820.3 L380.0,820.0 L381.6,819.3 L383.2,820.4 L384.8,822.4 L386.4,821.4 L388.0,821.0 L389.7,820.1 L391.3,816.4 L393.0,815.0 L394.5,816.3 L396.0,818.2 L397.5,821.3 L399.0,823.0 L400.6,823.1 L402.1,823.2 L403.7,820.0 L405.3,822.1 L406.9,822.3 L408.4,820.6 L410.0,820.0 L411.4,818.1 L412.9,819.0 L414.3,817.7 L415.7,818.3 L417.1,820.9 L418.6,819.6 L420.0,819.0 L421.5,818.8 L423.0,818.4 L424.5,818.1 L426.0,816.1 L427.5,815.3 L429.0,814.0 L430.6,815.7 L432.2,817.1 L433.8,818.0 L435.4,819.5 L437.0,820.0 L438.3,815.6 L439.7,814.0 L441.0,810.0"/>
<path class="c" stroke="#0f0" stroke-width="10.2" d="M441.0,810.0 L443.7,800.0 L445.1,793.2 L446.6,787.6 L448.0,780.0 L450.7,750.0 L453.6,722.0 L455.5,692.0 L458.0,660.0 L459.3,649.2 L460.7,640.2 L462.0,632.0 L463.5,621.3 L465.0,614.0 L466.5,611.5 L468.0,607.0 L469.3,612.8 L470.7,616.2 L472.0,620.0 L473.5,629.5 L475.0,640.0 L477.0,660.0 L478.5,677.2 L480.0,692.0 L481.5,707.0 L483.0,720.0 L484.5,732.2 L486.0,744.0 L487.3,749.8 L488.7,756.6 L490.0,764.0 L491.7,767.7 L493.3,771.3 L495.0,776.0 L496.7,779.8 L498.3,784.5 L500.0,788.0 L501.5,795.6 L503.0,800.0 L504.5,803.4 L506.0,810.0 L507.5,811.0 L509.0,809.8 L510.5,810.9 L512.0,813.0 L513.6,814.5 L515.2,814.1 L516.8,815.7 L518.4,814.4 L520.0,815.0 L521.7,810.9 L523.3,809.9 L525.0,808.0 L526.5,809.6 L528.0,812.1 L529.5,813.5 L531.0,813.0 L532.3,812.2 L533.7,811.4 L535.0,811.0 L536.7,810.6 L538.3,813.5 L540.0,814.0 L541.3,809.6 L542.7,806.1 L544.0,804.0 L545.7,800.9 L547.3,799.6 L549.0,800.0 L550.5,801.4 L552.0,800.1 L553.5,803.9 L555.0,803.0 L556.3,797.9 L557.7,797.0 L559.0,792.0 L560.7,791.7 L562.3,792.3 L564.0,795.0 L565.5,794.3 L567.0,791.1 L568.5,791.3 L570.0,789.0 L571.4,787.7 L572.9,787.1 L574.3,789.6 L575.7,789.2 L577.1,789.6 L578.6,789.0 L580.0,788.0 L581.7,783.2 L583.3,781.8 L585.0,778.0 L586.3,772.8 L587.7,765.9 L589.0,760.0 L590.5,751.6 L592.0,740.0 L593.3,733.8 L594.7,731.0 L596.0,724.0 L597.5,712.8 L599.0,700.0 L600.5,690.2 L602.0,684.0 L603.3,679.6 L604.7,679.2 L606.0,676.0 L607.5,669.1 L609.0,660.0 L611.4,657.0 L612.8,658.7 L614.2,662.8 L615.6,667.6 L617.0,670.0 L618.5,677.8 L620.0,688.0 L621.7,697.3 L623.3,704.0 L625.0,712.0 L626.7,719.7 L628.3,730.2 L630.0,740.0 L631.5,746.3 L633.0,751.8 L634.5,758.6 L636.0,764.0 L637.7,770.1 L639.3,779.7 L641.0,786.0 L642.7,791.5 L644.3,798.5 L646.0,804.0 L647.3,808.5 L648.7,811.7 L650.0,816.0 L651.3,816.9 L652.7,819.7 L654.0,820.0 L655.7,818.9 L657.3,815.7 L659.0,812.0 L660.7,814.6 L662.3,815.9 L664.0,819.0 L665.7,815.8 L667.3,817.4 L669.0,814.0 L670.5,815.4 L672.0,816.5 L673.5,815.4 L675.0,817.0 L676.5,819.1 L678.0,818.0 L679.7,815.2 L681.3,810.4 L683.0,806.0 L684.4,804.1 L685.8,803.3 L687.2,803.8 L688.6,800.8 L690.0,800.0 L691.5,802.2 L693.0,803.4 L694.5,805.9 L696.0,806.0 L697.7,801.8 L699.3,794.6 L701.0,790.0 L702.7,782.9 L704.3,778.5 L706.0,774.0 L707.5,770.7 L709.0,768.3 L710.5,766.1 L712.0,762.0 L713.5,759.4 L715.0,752.4 L716.5,751.2 L718.0,746.0 L719.5,744.6 L721.0,742.3 L722.5,738.8 L724.0,736.0 L725.5,734.7 L727.0,736.3 L728.5,735.6 L730.0,734.0 L732.0,718.0 L733.3,714.7 L734.7,711.5 L736.0,706.0 L737.5,705.8 L739.0,705.2 L740.5,707.2 L742.0,708.4 L743.5,706.6 L745.0,708.0 L746.4,706.5 L747.8,704.8 L749.2,699.8 L750.6,698.8 L752.0,696.0 L753.7,693.0 L755.3,688.5 L757.0,685.0 L758.4,684.1 L759.8,684.5 L761.2,686.5 L762.6,686.8 L764.0,686.0 L765.5,683.9 L767.0,680.5 L768.5,681.1 L770.0,678.0 L771.5,672.0 L773.0,664.0 L774.3,658.4 L775.7,655.0 L777.0,650.0 L778.3,644.8 L779.7,638.1 L781.0,630.0 L782.5,620.1 L784.0,610.0 L786.0,590.0 L788.0,570.0 L790.0,550.0 L792.0,528.0 L794.0,504.0 L796.0,480.0 L797.5,420.0 L799.0,350.0 L801.5,310.0 L803.2,301.9 L805.0,294.0 L806.5,289.3 L808.0,284.0 L809.5,288.4 L811.0,295.0 L812.5,301.4 L814.0,310.0 L815.3,318.9 L816.7,330.7 L818.0,340.0 L819.3,348.2 L820.7,357.6 L822.0,366.0 L823.5,377.6 L825.0,390.0 L826.5,404.1 L828.0,418.0 L829.0,420.0 L830.5,427.7 L832.0,438.0 L833.6,437.6 L835.2,442.2 L836.8,441.1 L838.4,441.4 L840.0,444.0 L841.5,453.5 L843.0,462.0 L844.7,469.0 L846.3,472.8 L848.0,480.0 L849.7,485.7 L851.3,490.1 L853.0,496.0 L854.7,500.1 L856.3,502.3 L858.0,508.0 L859.5,511.3 L861.0,518.0 L862.5,521.3 L864.0,522.3 L865.5,522.5 L867.0,524.0 L869.0,540.0 L870.3,545.6 L871.7,549.8 L873.0,556.0 L874.7,561.7 L876.3,565.1 L878.0,570.0 L879.3,575.6 L880.7,579.0 L882.0,582.0 L883.3,586.5 L884.7,590.3 L886.0,592.0 L887.3,593.1 L888.7,594.3 L890.0,598.0 L891.7,594.3 L893.3,591.5 L895.0,590.0 L897.0,572.0 L898.5,564.5 L900.0,560.0 L901.7,555.7 L903.3,554.9 L905.0,552.0 L906.7,556.0 L908.3,557.2 L910.0,560.0 L912.0,580.0 L913.5,591.6 L915.0,600.0 L916.5,611.5 L918.0,620.0 L920.0,640.0 L921.5,650.9 L923.0,665.0 L924.5,677.9 L926.0,690.0 L927.5,699.6 L929.0,710.0 L930.5,718.6 L932.0,730.0 L934.0,750.0 L935.5,759.7 L937.0,766.0 L938.7,767.1 L940.3,770.2 L942.0,772.0 L943.3,777.2 L944.7,783.0 L946.0,786.0 L947.3,791.9 L948.7,796.3 L950.0,802.0 L951.7,805.1 L953.3,807.4 L955.0,812.0 L956.5,813.2 L958.0,812.8 L959.5,809.5 L961.0,808.3 L962.5,808.6 L964.0,809.0 L965.5,808.5 L967.0,810.4 L968.5,810.5 L970.0,809.0 L971.7,811.9 L973.3,810.7 L975.0,814.0 L976.7,811.7 L978.3,808.1 L980.0,804.0 L981.3,802.5 L982.7,801.7 L984.0,798.0 L985.5,794.4 L987.0,792.7 L988.5,792.9 L990.0,790.0 L991.4,792.8 L992.8,793.0 L994.2,792.9 L995.6,795.1 L997.0,796.0 L998.7,800.9 L1000.3,802.6 L1002.0,808.0 L1003.4,809.0 L1004.8,810.3 L1006.2,811.4 L1007.6,814.3 L1009.0,816.0 L1010.5,815.0 L1012.0,815.4 L1013.5,815.2 L1015.0,817.3 L1016.5,815.1 L1018.0,817.0 L1019.6,818.4 L1021.2,817.1 L1022.8,817.1 L1024.4,820.9 L1026.0,820.0 L1027.6,820.0 L1029.2,823.6 L1030.8,824.3 L1032.4,825.4 L1034.0,825.0 L1036.0,816.0 L1037.4,813.9 L1038.8,814.2 L1040.2,812.1"/>
<path class="c" stroke="#0f0" stroke-width="12" d="M1040.2,812.1 L1041.6,814.3 L1043.0,812.0 L1044.7,810.1 L1046.3,804.8 L1048.0,800.0 L1049.6,799.7 L1051.2,799.0 L1052.8,801.9 L1054.4,799.9 L1056.0,800.0 L1057.5,799.3 L1059.0,794.9 L1060.5,793.8 L1062.0,794.0 L1063.6,791.7 L1065.2,796.1 L1066.8,795.5 L1068.4,793.5 L1070.0,796.0 L1071.5,797.4 L1073.0,792.9 L1074.5,793.0 L1076.0,790.6 L1077.5,790.5 L1079.0,791.0 L1080.4,794.0 L1081.8,792.0 L1083.2,792.0 L1084.6,794.9 L1086.0,796.0 L1087.6,794.7 L1089.2,798.0 L1090.8,793.1 L1092.4,798.1 L1094.0,795.0 L1095.5,794.6 L1097.0,801.9 L1098.5,802.8 L1100.0,804.0 L1101.7,794.9 L1103.3,789.2 L1105.0,782.0 L1106.7,778.7 L1108.3,776.5 L1110.0,776.0 L1111.6,773.6 L1113.2,774.0 L1114.8,777.1 L1116.4,776.6 L1118.0,773.0 L1119.3,773.9 L1120.7,767.3 L1122.0,768.0 L1123.5,765.7 L1125.0,768.4 L1126.5,762.3 L1128.0,764.0 L1129.5,769.6 L1131.0,771.3 L1132.5,779.6 L1134.0,781.0 L1135.6,775.9 L1137.2,778.4 L1138.8,773.4 L1140.4,770.0 L1142.0,770.0 L1143.7,761.7 L1145.3,761.3 L1147.0,754.0 L1148.7,752.2 L1150.3,748.1 L1152.0,748.0 L1153.5,747.6 L1155.0,750.5 L1156.5,746.3 L1158.0,748.0 L1159.7,743.8 L1161.3,736.5 L1163.0,734.0 L1164.4,731.7 L1165.8,734.8 L1167.2,734.1 L1168.6,730.6 L1170.0,732.0 L1171.6,728.1 L1173.2,726.7 L1174.8,728.5 L1176.4,726.4 L1178.0,725.0 L1179.4,723.8 L1180.9,723.5 L1182.3,726.1 L1183.7,726.8 L1185.1,727.6 L1186.6,726.4 L1188.0,726.0 L1189.5,727.2 L1191.0,729.4 L1192.5,736.4 L1194.0,738.0 L1195.7,738.1 L1197.3,740.7 L1199.0,740.0 L1200.7,732.3 L1202.3,731.9 L1204.0,725.0 L1205.5,726.8 L1207.0,732.6 L1208.5,735.4 L1210.0,736.0 L1211.5,736.7 L1213.0,734.6 L1214.5,740.7 L1216.0,739.0 L1217.5,738.6 L1219.0,740.7 L1220.5,736.8 L1222.0,738.0 L1223.4,736.7 L1224.8,741.2 L1226.2,739.0 L1227.6,738.4 L1229.0,741.0 L1230.3,742.6 L1231.7,746.2 L1233.0,748.0 L1234.5,744.5 L1236.0,747.1 L1237.5,746.2 L1239.0,746.0 L1240.4,747.3 L1241.8,746.1 L1243.2,750.9 L1244.6,752.7 L1246.0,752.0 L1247.4,754.6 L1248.8,751.7 L1250.2,754.5 L1251.6,752.9 L1253.0,754.0 L1254.3,760.8 L1255.7,762.0 L1257.0,770.0 L1258.5,774.2 L1260.0,776.7 L1261.5,776.0 L1263.0,778.0 L1264.6,776.9 L1266.2,775.8 L1267.8,774.6 L1269.4,770.3 L1271.0,772.0 L1272.5,777.6 L1274.0,775.8 L1275.5,778.3 L1277.0,783.0 L1278.4,781.2 L1279.8,782.7 L1281.2,786.7 L1282.6,782.6 L1284.0,786.0 L1285.5,784.3 L1287.0,788.7 L1288.5,786.4 L1290.0,789.0 L1291.5,785.1 L1293.0,787.6 L1294.5,786.5 L1296.0,785.0 L1297.6,785.9 L1299.2,787.8 L1300.8,785.0"/>
<path class="c" stroke="#0f0" stroke-width="12.8" d="M1300.8,785.0 L1302.4,790.4 L1304.0,789.0 L1305.7,794.6 L1307.3,792.2 L1309.0,800.0 L1310.5,796.4 L1312.0,799.6 L1313.5,799.5 L1315.0,797.3 L1316.5,795.8 L1318.0,799.0 L1319.4,797.9 L1320.9,795.2 L1322.3,799.0 L1323.7,801.1 L1325.1,794.4 L1326.6,797.9 L1328.0,797.0 L1329.5,801.5 L1331.0,798.5 L1332.5,806.7 L1334.0,806.0 L1335.5,809.1 L1337.0,803.3 L1338.5,802.8 L1340.0,805.7 L1341.5,802.1 L1343.0,801.0 L1344.5,803.8 L1346.0,812.5 L1347.5,814.7 L1349.0,816.0 L1350.5,815.8 L1352.0,816.2 L1353.5,818.3 L1355.0,821.0 L1356.5,817.2 L1358.0,818.8 L1359.5,814.0 L1361.0,808.0 L1362.4,813.3 L1363.8,814.0 L1365.2,815.9 L1366.6,810.4 L1368.0,816.0 L1369.5,815.2 L1371.0,814.0 L1372.6,816.9 L1374.2,815.5 L1375.8,808.1 L1377.4,808.5 L1379.0,808.0 L1380.4,810.1 L1381.9,808.5 L1383.3,810.8 L1384.7,807.6 L1386.1,811.7 L1387.6,813.2 L1389.0,814.0 L1390.6,810.1 L1392.2,811.6 L1393.8,819.4 L1395.4,818.1 L1397.0,816.0 L1398.5,817.9 L1400.0,813.2 L1401.5,812.8 L1403.0,808.0 L1404.6,811.9 L1406.2,812.3 L1407.8,805.0 L1409.4,810.9 L1411.0,810.0 L1412.3,811.9 L1413.7,819.6 L1415.0,822.0 L1416.7,824.6 L1418.3,831.7 L1420.0,836.0 L1421.5,841.8 L1423.0,840.0"/>
<path class="c" stroke="#0f0" stroke-width="10.8" d="M1423.0,840.0 L1424.3,825.4 L1425.7,806.4 L1427.0,793.0 L1429.0,810.0 L1430.0,840.0 L1431.0,870.0"/>
<path class="c" stroke="#00f" stroke-width="11" d="M117.0,703.0 L118.5,702.8 L120.0,702.3 L121.5,703.9 L123.0,701.3 L124.5,701.1 L126.0,701.6 L127.5,702.7 L129.0,701.3 L130.5,703.6 L132.0,705.4 L133.5,704.4 L135.0,704.1 L136.5,705.3 L138.0,706.0 L139.4,705.7 L140.8,703.9 L142.2,703.4 L143.6,703.1 L145.0,704.0 L146.4,704.1 L147.8,705.3 L149.2,705.6 L150.6,706.3 L152.0,708.0 L153.5,705.3 L155.0,705.7 L156.5,705.5 L158.0,703.0 L159.6,703.6 L161.2,703.7 L162.8,704.1 L164.4,702.7 L166.0,704.0 L167.5,704.5 L169.0,703.3 L170.5,703.3 L172.0,703.2 L173.5,702.4 L175.0,701.5 L176.5,701.0 L178.0,701.6 L179.4,700.8 L180.9,702.0 L182.3,701.8 L183.7,702.7 L185.1,700.8 L186.6,702.3 L188.0,703.0 L189.6,704.7 L191.2,702.9 L192.8,704.4 L194.4,704.6 L196.0,705.0 L197.6,704.4 L199.2,707.2 L200.8,704.9 L202.4,706.8 L204.0,706.0 L205.6,704.2 L207.2,703.2 L208.8,705.5 L210.4,703.4 L212.0,703.0 L213.6,701.0 L215.2,701.8 L216.8,701.6 L218.4,702.2 L220.0,701.0 L221.4,700.3 L222.9,701.4 L224.3,704.8 L225.7,704.7 L227.1,703.3 L228.6,704.7 L230.0,706.0 L231.5,704.3 L233.0,704.3 L234.5,702.9 L236.0,702.6 L237.5,701.3 L239.0,699.0 L240.5,701.3 L242.0,704.4 L243.5,706.6 L245.0,708.0 L246.4,707.9 L247.8,705.9 L249.2,706.0 L250.6,704.8 L252.0,703.0 L253.5,704.6 L255.0,701.9 L256.5,704.7 L258.0,701.7 L259.5,704.6 L261.0,704.1 L262.5,703.9 L264.0,704.0 L265.6,705.5 L267.2,703.9 L268.8,703.1 L270.4,704.2 L272.0,703.0 L273.5,704.0 L275.0,702.7 L276.5,701.6 L278.0,701.5 L279.5,701.2 L281.0,701.0 L282.5,703.0 L284.0,702.6 L285.5,704.1 L287.0,705.9 L288.5,706.4 L290.0,708.0 L291.4,706.4 L292.8,707.0 L294.2,706.3 L295.6,704.0 L297.0,703.0 L298.4,702.7 L299.8,701.6 L301.2,701.9 L302.6,701.2 L304.0,702.4 L305.7,704.2 L307.3,705.8 L309.0,707.0 L310.4,705.2 L311.8,708.0 L313.2,705.5 L314.6,707.1 L316.0,705.6 L317.6,706.9 L319.2,707.4 L320.8,704.8 L322.4,705.7 L324.0,706.0 L325.4,707.9 L326.8,705.0 L328.2,705.6 L329.6,707.8 L331.0,708.0 L332.4,707.3 L333.9,708.1 L335.3,706.8 L336.7,705.3 L338.1,706.2 L339.6,703.8 L341.0,703.0 L342.6,703.9 L344.2,705.3 L345.8,705.0 L347.4,705.7 L349.0,707.0 L350.6,707.1 L352.2,706.1 L353.8,708.0 L355.4,706.8 L357.0,706.0 L358.5,705.3 L360.0,702.9 L361.5,703.0 L363.0,702.3 L364.5,702.1 L366.0,701.0 L367.4,702.2 L368.9,704.1 L370.3,705.3 L371.8,704.5 L373.2,705.2 L374.7,706.8 L376.1,709.0 L377.6,707.5 L379.0,709.0 L380.4,707.5 L381.8,706.9 L383.2,703.0 L384.6,701.9 L386.0,701.0 L387.6,703.7 L389.2,704.2 L390.8,704.0 L392.4,703.6 L394.0,706.0 L395.5,707.7 L397.0,707.2 L398.5,707.9 L400.0,707.0 L401.5,708.8 L403.0,708.6 L404.5,707.0 L406.0,706.1 L407.5,706.7 L409.0,707.5 L410.5,707.6 L412.0,706.5 L413.5,706.6 L415.0,708.3 L416.5,708.3 L418.0,708.0 L419.6,707.8 L421.1,710.4 L422.7,709.5 L424.2,707.7 L425.8,709.3 L427.3,711.0 L428.9,709.6 L430.4,711.4 L432.0,711.0 L433.5,708.7 L435.0,709.3 L436.5,710.7 L438.0,709.0 L439.8,706.8 L441.5,704.0"/>
<path class="c" stroke="#00f" stroke-width="10.2" d="M441.5,704.0 L443.0,699.9 L444.5,693.7 L446.0,690.0 L447.5,680.0 L449.0,670.2 L450.5,660.0 L452.2,644.3 L454.0,630.0 L455.3,619.1 L456.7,607.4 L458.0,596.0 L459.5,581.6 L461.0,564.0 L462.5,547.2 L464.0,530.0 L465.5,516.7 L467.0,504.0 L468.5,494.8 L470.0,488.0 L472.4,483.0 L473.9,483.6 L475.5,487.2 L477.0,488.0 L478.3,488.4 L479.7,490.1 L481.0,493.0 L482.5,501.4 L484.0,512.0 L485.3,522.7 L486.7,534.4 L488.0,544.0 L489.5,562.4 L491.0,580.0 L492.3,590.3 L493.7,597.3 L495.0,608.0 L496.3,614.4 L497.7,624.9 L499.0,632.0 L500.5,643.4 L502.0,656.0 L503.3,664.0 L504.7,670.2 L506.0,678.0 L507.3,682.9 L508.7,689.3 L510.0,696.0 L511.7,696.7 L513.3,701.3 L515.0,702.0 L516.5,703.3 L518.0,703.5 L519.5,704.8 L521.0,706.0 L522.4,704.4 L523.8,702.2 L525.2,703.6 L526.6,701.5 L528.0,700.0 L529.6,700.3 L531.2,697.4 L532.8,696.8 L534.4,694.4 L536.0,694.0 L537.3,690.9 L538.7,692.0 L540.0,689.0 L541.5,691.1 L543.0,690.4 L544.5,693.3 L546.0,693.0 L547.5,692.3 L549.0,688.9 L550.5,688.1 L552.0,686.0 L553.3,683.5 L554.7,678.0 L556.0,674.0 L557.5,677.4 L559.0,677.2 L560.5,679.6 L562.0,682.0 L563.3,677.4 L564.7,670.4 L566.0,666.0 L567.5,665.1 L569.0,666.7 L570.5,665.2 L572.0,665.0 L573.6,665.1 L575.2,662.6 L576.8,661.6 L578.4,661.3 L580.0,661.0 L581.7,661.0 L583.3,664.5 L585.0,664.0 L586.5,653.3 L588.0,644.0 L589.7,642.5 L591.3,639.4 L593.0,639.0 L594.3,634.8 L595.7,630.0 L597.0,626.0 L598.5,615.7 L600.0,606.0 L601.3,599.3 L602.7,594.1 L604.0,590.0 L605.3,585.0 L606.7,577.5 L608.0,572.0 L610.0,558.0 L611.5,557.2 L613.0,557.0 L614.5,557.3 L616.0,558.0 L617.5,553.2 L619.0,550.0 L620.3,547.8 L621.7,549.2 L623.0,548.0 L624.7,545.2 L626.3,542.2 L628.0,541.0 L629.5,549.2 L631.0,556.0 L632.5,566.7 L634.0,580.0 L635.3,584.6 L636.7,591.7 L638.0,596.0 L639.3,602.8 L640.7,611.8 L642.0,620.0 L643.3,626.4 L644.7,631.6 L646.0,636.0 L647.5,644.9 L649.0,656.0 L650.7,660.9 L652.3,667.4 L654.0,672.0 L655.5,674.6 L657.0,679.5 L658.5,680.1 L660.0,684.0 L661.5,686.2 L663.0,685.5 L664.5,685.4 L666.0,687.0 L667.7,688.2 L669.3,688.5 L671.0,691.0 L672.7,689.3 L674.3,685.6 L676.0,684.0 L677.6,684.1 L679.2,681.9 L680.8,680.0 L682.4,678.4 L684.0,678.0 L685.6,677.1 L687.2,674.7 L688.8,675.6 L690.4,672.0 L692.0,672.0 L693.6,671.2 L695.2,670.5 L696.8,668.9 L698.4,669.7 L700.0,668.0 L701.7,664.3 L703.3,661.8 L705.0,658.0 L706.5,658.0 L708.0,656.9 L709.5,656.9 L711.0,657.0 L712.4,654.1 L713.8,652.8 L715.2,653.3 L716.6,650.0 L718.0,649.0 L719.7,647.9 L721.3,644.4 L723.0,644.0 L725.0,626.0 L726.7,623.5 L728.3,620.2 L730.0,618.0 L731.3,612.7 L732.7,606.7 L734.0,602.0 L735.6,600.2 L737.2,600.6 L738.8,599.9 L740.4,599.2 L742.0,600.0 L743.5,599.7 L745.0,597.3 L746.5,596.7 L748.0,596.0 L749.3,593.3 L750.7,588.9 L752.0,584.0 L754.0,568.0 L755.6,569.0 L757.2,568.8 L758.8,566.2 L760.4,566.5 L762.0,567.0 L763.4,563.9 L764.8,564.4 L766.2,562.7 L767.6,560.1 L769.0,559.0 L770.7,558.4 L772.3,558.8 L774.0,558.0 L775.5,558.1 L777.0,556.2 L778.5,557.6 L780.0,556.0 L781.3,550.2 L782.7,545.7 L784.0,540.0 L786.0,520.0 L787.5,504.0 L789.0,490.0 L790.5,473.8 L792.0,460.0 L793.5,446.3 L795.0,430.0 L796.0,418.4 L798.0,390.0 L800.0,360.0 L802.0,330.0 L803.5,315.7 L805.0,300.0 L806.5,285.7 L808.0,270.0 L809.5,256.5 L811.0,246.0 L812.3,239.2 L813.7,234.3 L815.0,230.0 L816.5,221.0 L818.0,214.0 L820.0,196.0 L821.5,190.4 L823.0,186.0 L824.5,180.6 L826.0,176.0 L827.5,171.0 L829.0,169.0 L830.5,176.9 L832.0,186.0 L834.0,210.0 L836.0,234.0 L837.5,248.4 L839.0,262.0 L841.0,286.0 L842.5,297.0 L844.0,310.0 L845.5,323.1 L847.0,334.0 L848.5,346.2 L850.0,358.0 L852.0,382.0 L854.0,400.0 L855.7,403.4 L857.3,404.5 L859.0,408.0 L861.0,418.0 L862.5,424.8 L864.0,432.0 L865.5,442.6 L867.0,452.0 L868.7,455.5 L870.3,458.4 L872.0,464.0 L873.3,471.7 L874.7,478.2 L876.0,484.0 L877.3,488.0 L878.7,491.9 L880.0,498.0 L881.4,500.3 L882.8,500.7 L884.2,500.2 L885.6,502.0 L887.0,504.0 L889.0,518.0 L890.5,521.3 L892.0,527.0 L893.7,524.9 L895.3,520.1 L897.0,518.0 L898.3,515.3 L899.7,510.8 L901.0,506.0 L902.5,504.7 L904.0,506.6 L905.5,505.7 L907.0,506.0 L908.7,504.5 L910.3,502.4 L912.0,499.0 L913.5,499.5 L915.0,500.2 L916.5,504.2 L918.0,504.0 L919.5,511.8 L921.0,520.0 L922.7,526.0 L924.3,529.9 L926.0,534.0 L927.3,540.8 L928.7,547.1 L930.0,552.0 L931.3,557.7 L932.7,562.5 L934.0,568.0 L935.5,576.6 L937.0,588.0 L938.5,598.6 L940.0,608.0 L941.5,616.8 L943.0,626.0 L944.5,636.0 L946.0,646.0 L947.5,656.4 L949.0,664.0 L950.3,666.1 L951.7,671.5 L953.0,674.0 L954.7,676.5 L956.3,682.6 L958.0,686.0 L959.5,686.0 L961.0,683.2 L962.5,683.1 L964.0,682.0 L965.5,685.5 L967.0,686.4 L968.5,688.1 L970.0,690.0 L971.4,688.4 L972.8,687.0 L974.2,687.1 L975.6,686.5 L977.0,686.0 L978.4,684.6 L979.8,684.6 L981.2,683.6 L982.6,685.1 L984.0,684.0 L985.3,680.5 L986.7,675.2 L988.0,672.0 L989.3,670.8 L990.7,671.4 L992.0,671.0 L993.7,672.5 L995.3,675.7 L997.0,676.0 L998.4,674.3 L999.8,673.0 L1001.2,673.6 L1002.6,670.1 L1004.0,670.0 L1005.7,672.9 L1007.3,674.8 L1009.0,678.0 L1010.4,680.0 L1011.8,680.2 L1013.2,681.8 L1014.6,680.9 L1016.0,683.0 L1017.3,687.2 L1018.7,690.6 L1020.0,694.0 L1021.4,693.7 L1022.8,694.5 L1024.2,694.5 L1025.6,692.0 L1027.0,693.0 L1028.7,695.7 L1030.3,699.2 L1032.0,703.0 L1033.3,701.7 L1034.7,700.9 L1036.0,702.0 L1037.4,702.9 L1038.8,704.2 L1040.2,707.4"/>
<path class="c" stroke="#00f" stroke-width="11" d="M1040.2,707.4 L1041.6,708.2 L1043.0,710.0 L1044.5,707.0 L1046.0,706.6 L1047.5,705.9 L1049.0,704.1 L1050.5,701.9 L1052.0,702.0 L1053.3,695.1 L1054.7,689.8 L1056.0,687.0 L1057.6,690.4 L1059.2,690.5 L1060.8,688.8 L1062.4,692.8 L1064.0,693.0 L1065.6,694.5 L1067.2,692.1 L1068.8,689.5 L1070.4,690.6 L1072.0,690.0 L1073.5,689.5 L1075.0,688.1 L1076.5,689.4 L1078.0,689.0 L1079.4,687.6 L1080.9,692.3 L1082.3,691.8 L1083.7,692.4 L1085.1,694.5 L1086.6,694.0 L1088.0,694.0 L1089.6,695.1 L1091.2,697.3 L1092.8,699.0 L1094.4,700.7 L1096.0,705.0 L1097.5,704.2 L1099.0,702.5 L1100.5,698.1 L1102.0,697.0 L1103.7,698.6 L1105.3,703.6 L1107.0,706.0 L1108.5,706.2 L1110.0,705.2 L1111.5,700.5 L1113.0,701.9 L1114.5,700.8 L1116.0,698.0 L1117.4,697.5 L1118.8,694.0 L1120.2,691.8 L1121.6,693.0 L1123.0,690.0 L1124.7,687.5 L1126.3,686.1 L1128.0,685.0 L1129.5,686.7 L1131.0,687.4 L1132.5,691.0 L1134.0,691.0 L1135.6,690.3 L1137.2,689.8 L1138.8,692.5 L1140.4,693.2 L1142.0,693.0 L1143.4,692.6 L1144.8,690.3 L1146.2,689.4 L1147.6,687.8 L1149.0,684.0 L1150.7,680.6 L1152.3,677.3 L1154.0,674.0 L1155.4,673.1 L1156.8,674.3 L1158.2,676.2 L1159.6,674.6 L1161.0,677.0 L1162.4,676.6 L1163.8,673.1 L1165.2,673.2 L1166.6,674.3 L1168.0,671.0 L1169.7,668.2 L1171.3,667.0 L1173.0,668.0 L1174.7,664.7 L1176.3,660.6 L1178.0,659.0 L1179.6,659.0 L1181.2,654.8 L1182.8,657.5 L1184.4,656.6 L1186.0,654.0 L1187.4,655.8 L1188.9,654.8 L1190.3,654.8 L1191.7,657.0 L1193.1,656.9 L1194.6,657.1 L1196.0,658.0 L1197.5,654.5 L1199.0,652.2 L1200.5,650.5 L1202.0,647.0 L1203.4,648.3 L1204.9,648.5 L1206.3,645.1 L1207.7,645.5 L1209.1,646.0 L1210.6,646.4 L1212.0,646.0 L1213.5,648.8 L1215.0,651.7 L1216.5,654.7 L1218.0,660.0 L1219.4,660.0 L1220.8,661.4 L1222.2,664.5 L1223.6,665.0 L1225.0,664.0 L1226.7,662.6 L1228.3,660.1 L1230.0,655.0 L1231.5,661.3 L1233.0,664.0 L1234.5,669.1 L1236.0,672.0 L1237.4,669.5 L1238.8,671.6 L1240.2,670.7 L1241.6,668.7 L1243.0,669.0 L1244.4,668.9 L1245.8,670.2 L1247.2,667.7 L1248.6,668.0 L1250.0,667.0 L1251.5,669.1 L1253.0,672.3 L1254.5,677.7 L1256.0,679.0 L1257.5,677.2 L1259.0,678.1 L1260.5,680.5 L1262.0,680.0 L1263.6,679.8 L1265.2,678.2 L1266.8,680.7 L1268.4,679.4 L1270.0,680.0 L1271.6,681.4 L1273.2,681.6 L1274.8,683.1 L1276.4,684.3 L1278.0,685.0 L1279.6,685.3 L1281.2,684.9 L1282.8,686.0 L1284.4,689.9 L1286.0,689.0 L1287.6,690.0 L1289.2,688.9 L1290.8,693.0 L1292.4,691.1 L1294.0,693.0 L1295.6,691.6 L1297.2,693.9 L1298.8,693.1 L1300.4,694.6"/>
<path class="c" stroke="#00f" stroke-width="11.6" d="M1300.4,694.6 L1302.0,695.0 L1303.7,697.9 L1305.3,698.9 L1307.0,703.0 L1308.4,702.4 L1309.8,699.0 L1311.2,700.1 L1312.6,699.5 L1314.0,698.0 L1315.6,697.6 L1317.2,701.1 L1318.8,701.2 L1320.4,704.9 L1322.0,707.0 L1323.6,707.9 L1325.2,705.3 L1326.8,705.1 L1328.4,704.3 L1330.0,702.0 L1331.4,699.6 L1332.8,703.8 L1334.2,702.0 L1335.6,698.3 L1337.0,700.0 L1338.4,703.3 L1339.8,702.6 L1341.2,703.1 L1342.6,708.8 L1344.0,708.0 L1345.4,707.8 L1346.9,708.3 L1348.3,704.4 L1349.7,707.2 L1351.1,702.8 L1352.6,703.2 L1354.0,704.0 L1355.6,703.3 L1357.2,701.5 L1358.8,704.5 L1360.4,702.5 L1362.0,704.0 L1363.4,703.0 L1364.8,705.1 L1366.2,703.6 L1367.6,706.0 L1369.0,704.0 L1370.4,703.8 L1371.9,704.2 L1373.3,701.8 L1374.7,702.7 L1376.1,701.6 L1377.6,697.1 L1379.0,698.0 L1380.6,700.9 L1382.2,700.4 L1383.8,704.2 L1385.4,705.3 L1387.0,706.0 L1388.6,706.9 L1390.2,702.4 L1391.8,702.9 L1393.4,704.0 L1395.0,702.0 L1396.6,705.1 L1398.2,704.8 L1399.8,702.0 L1401.4,705.7 L1403.0,706.0 L1404.4,704.5 L1405.9,707.4 L1407.3,709.3 L1408.7,706.3 L1410.1,711.1 L1411.6,710.3 L1413.0,710.0 L1414.5,706.0 L1416.0,702.9 L1417.5,701.5 L1419.0,699.0 L1420.4,700.8 L1421.9,699.4 L1423.3,697.0"/>
<path class="c" stroke="#00f" stroke-width="11.6" d="M1423.3,697.0 L1424.7,696.5 L1426.1,697.0 L1427.6,700.6 L1429.0,699.0 L1430.5,695.9 L1432.0,696.3 L1433.5,693.4 L1435.0,693.0 L1436.3,696.3 L1437.7,697.0 L1439.0,700.0"/>
</g>
<text class="lb" transform="translate(804,1310) scale(1,1.042)">2</text>
<text transform="translate(846.5,1309.8) skewX(-7) scale(1.245,1)" x="0" y="0" style="font-family:'Liberation Serif',serif;font-style:italic;font-size:64px">θ</text>
<text class="lb" transform="translate(878,1310)">, deg.</text>
<text transform="translate(67,597.5) rotate(-90) scale(1,1.03)" style="font-size:55.5px;text-anchor:middle">Intensity</text>
<clipPath id="c1"><rect x="0" y="-60" width="40" height="53.7"/><rect x="17.5" y="-6.4" width="7" height="7"/></clipPath><text class="lb" clip-path="url(#c1)" transform="translate(1592.5,1046) scale(1,1.07)" fill="#000">1</text>
<text class="lb" transform="translate(1487,965) scale(1,1.042)" fill="#f00">2</text>
<text class="lb" transform="translate(1479,852) scale(1,1.042)" fill="#0f0">3</text>
<text class="lb" transform="translate(1474.5,725.6) scale(1,1.042)" fill="#00f">4</text>
</svg></body></html>
